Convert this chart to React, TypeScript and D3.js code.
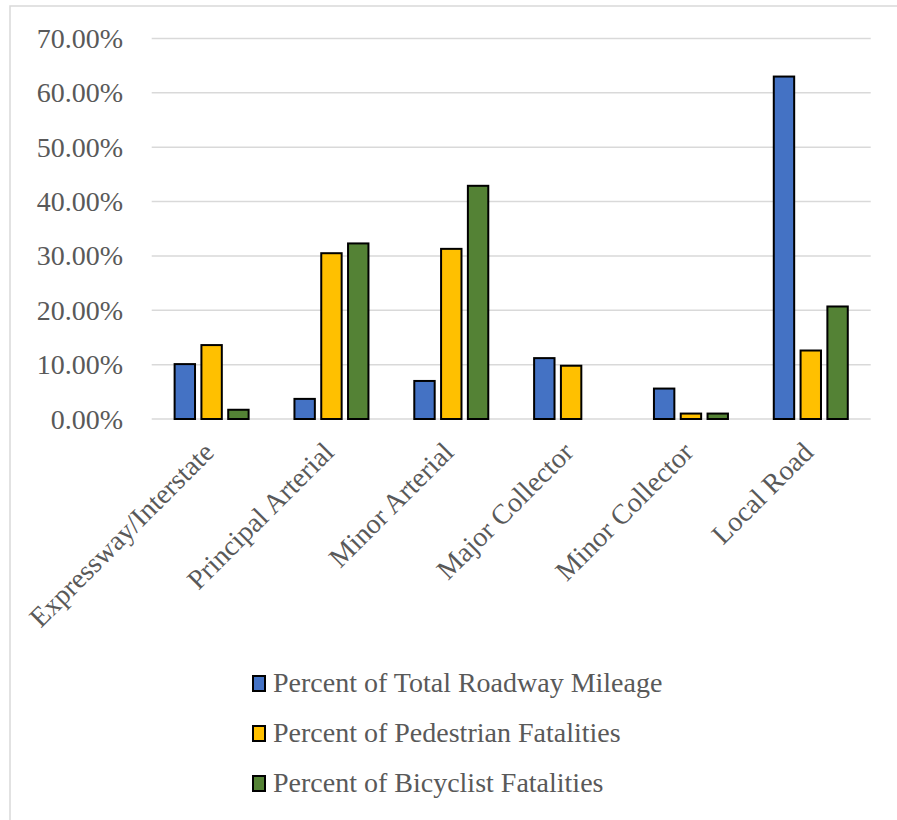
import React from "react";
import * as d3 from "d3";

const categories = [
  "Expressway/Interstate",
  "Principal Arterial",
  "Minor Arterial",
  "Major Collector",
  "Minor Collector",
  "Local Road",
];
const seriesNames = [
  "Percent of Total Roadway Mileage",
  "Percent of Pedestrian Fatalities",
  "Percent of Bicyclist Fatalities",
];
const roadwayMileage = [0.101, 0.037, 0.07, 0.112, 0.056, 0.63];
const pedestrianFatalities = [0.136, 0.305, 0.313, 0.098, 0.01, 0.126];
const bicyclistFatalities = [0.017, 0.323, 0.429, 0, 0.01, 0.207];
const yTicks = [0, 0.1, 0.2, 0.3, 0.4, 0.5, 0.6, 0.7];
const colors = ["#4472C4", "#FFC000", "#548235"];

const W = 897;
const H = 820;
const plotLeft = 151.7;
const plotRight = 870.7;
const plotTop = 38.5;
const plotBottom = 419;
const FONT = "'Liberation Serif', 'Times New Roman', serif";
const TEXT = "#595959";

export default function App() {
  const seriesValues = [roadwayMileage, pedestrianFatalities, bicyclistFatalities];
  const y = d3.scaleLinear().domain([0, 0.7]).range([plotBottom, plotTop]);
  const x0 = d3.scaleBand<string>().domain(categories).range([plotLeft, plotRight]).padding(0);
  const groupHalf = 38;
  const x1 = d3
    .scaleBand<number>()
    .domain(d3.range(seriesNames.length))
    .range([0, groupHalf * 2])
    .paddingInner(0.164)
    .paddingOuter(0);
  const fmt = (v: number) => (v * 100).toFixed(2) + "%";
  const sw = 2;

  return (
    <svg
      width={W}
      height={H}
      style={{ position: "absolute", left: 0, top: 0, background: "#fff" }}
      fontFamily={FONT}
    >
      <rect x={10} y={6} width={W} height={H} fill="#fff" stroke="#d9d9d9" strokeWidth={1.5} />
      {yTicks.map((t) => (
        <g key={t}>
          <line x1={plotLeft} x2={plotRight} y1={y(t)} y2={y(t)} stroke="#d9d9d9" strokeWidth={1.5} />
          <text x={123} y={y(t) + 9.5} textAnchor="end" fontSize={28} fill={TEXT}>
            {fmt(t)}
          </text>
        </g>
      ))}
      {categories.map((c, i) => {
        const cx = (x0(c) as number) + x0.bandwidth() / 2;
        return (
          <g key={c}>
            {seriesValues.map((vals, s) => {
              const v = vals[i];
              if (!v) return null;
              const bx = cx - groupHalf + (x1(s) as number);
              const bw = x1.bandwidth();
              const top = y(v);
              return (
                <rect
                  key={s}
                  x={bx + sw / 2}
                  y={top}
                  width={bw - sw}
                  height={plotBottom - top}
                  fill={colors[s]}
                  stroke="#000"
                  strokeWidth={sw}
                />
              );
            })}
            <text
              transform={`translate(${cx + 4},${454}) rotate(-45)`}
              textAnchor="end"
              fontSize={28}
              fill={TEXT}
            >
              {c}
            </text>
          </g>
        );
      })}
      {seriesNames.map((n, s) => {
        const base = 692 + s * 50;
        return (
          <g key={n}>
            <rect x={253} y={base - 16} width={12} height={15} fill={colors[s]} stroke="#000" strokeWidth={2} />
            <text x={273} y={base} fontSize={28} fill={TEXT}>
              {n}
            </text>
          </g>
        );
      })}
    </svg>
  );
}
